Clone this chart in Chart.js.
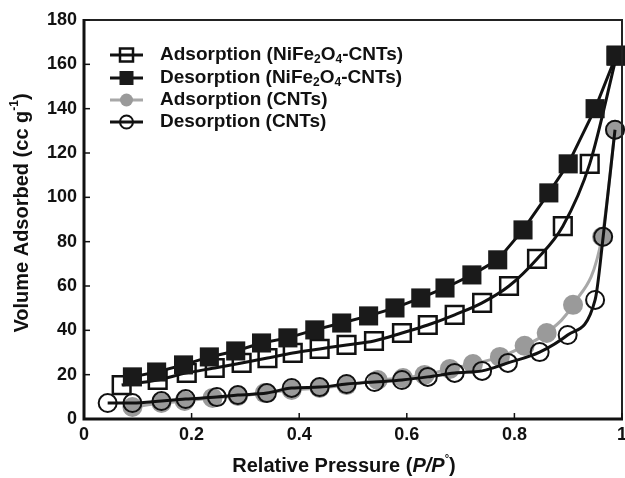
<!DOCTYPE html>
<html>
<head>
<meta charset="utf-8">
<script src="https://cdn.jsdelivr.net/npm/chart.js@4.4.1/dist/chart.umd.min.js"></script>
<style>
html, body { margin: 0; padding: 0; background: #fff; overflow: hidden; }
canvas { display: block; }
</style>
</head>
<body>
<canvas id="isothermChart" width="625" height="478"></canvas>
<script>
const FONT = '"Liberation Sans", Arial, Helvetica, sans-serif';

// NiFe2O4-CNTs adsorption (open squares)
const adsNiX = [0.070, 0.137, 0.191, 0.243, 0.293, 0.341, 0.388, 0.438, 0.488, 0.539, 0.591, 0.639, 0.689, 0.740, 0.790, 0.842, 0.890, 0.940, 0.990];
const adsNiY = [15.3, 17.6, 20.8, 23.0, 25.3, 27.5, 29.8, 31.6, 33.4, 35.2, 38.8, 42.4, 47.0, 52.4, 60.0, 72.2, 87.0, 115.1, 163.9];
// NiFe2O4-CNTs desorption (filled squares)
const desNiX = [0.090, 0.135, 0.185, 0.233, 0.282, 0.330, 0.379, 0.429, 0.479, 0.529, 0.578, 0.626, 0.671, 0.721, 0.769, 0.816, 0.864, 0.900, 0.950, 0.989];
const desNiY = [19.0, 21.2, 24.4, 28.0, 30.7, 34.3, 36.6, 40.2, 43.3, 46.5, 50.1, 54.6, 59.1, 65.0, 71.8, 85.3, 102.0, 115.1, 140.0, 163.9];
// CNTs adsorption (grey circles)
const adsCntX = [0.090, 0.144, 0.187, 0.239, 0.286, 0.336, 0.386, 0.438, 0.488, 0.546, 0.593, 0.633, 0.680, 0.723, 0.773, 0.819, 0.860, 0.909, 0.963, 0.987];
const adsCntY = [5.4, 7.2, 8.1, 9.5, 10.4, 11.7, 13.1, 14.0, 15.3, 17.6, 18.5, 19.9, 22.6, 24.8, 28.0, 33.0, 38.8, 51.5, 82.2, 130.5];
// CNTs desorption (open circles)
const desCntX = [0.044, 0.090, 0.144, 0.189, 0.247, 0.286, 0.340, 0.386, 0.438, 0.488, 0.540, 0.591, 0.639, 0.689, 0.740, 0.788, 0.847, 0.899, 0.950, 0.965, 0.987];
const desCntY = [7.2, 7.2, 8.1, 9.0, 9.9, 10.8, 11.7, 14.0, 14.4, 15.8, 16.7, 17.6, 19.0, 20.8, 21.7, 25.3, 30.2, 37.9, 53.7, 82.2, 130.5];

const xTicks = [0, 0.2, 0.4, 0.6, 0.8, 1];
const yTicks = [0, 20, 40, 60, 80, 100, 120, 140, 160, 180];

const legendRows = [
    [{ t: 'Adsorption (NiFe' }, { t: '2', sub: true }, { t: 'O' }, { t: '4', sub: true }, { t: '-CNTs)' }],
    [{ t: 'Desorption (NiFe' }, { t: '2', sub: true }, { t: 'O' }, { t: '4', sub: true }, { t: '-CNTs)' }],
    [{ t: 'Adsorption (CNTs)' }],
    [{ t: 'Desorption (CNTs)' }]
];

function pts(xs, ys) {
    return xs.map((x, i) => ({ x: x, y: ys[i] }));
}

function runFont(r, size) {
    const s = r.sub || r.sup ? r.small || 12 : size;
    return (r.italic ? 'italic ' : '') + 'bold ' + s + 'px ' + FONT;
}

function drawRuns(ctx, runs, x, y, size, center) {
    let total = 0;
    runs.forEach(r => { ctx.font = runFont(r, size); total += ctx.measureText(r.t).width; });
    let cx = center ? x - total / 2 : x;
    ctx.textBaseline = 'middle';
    ctx.textAlign = 'left';
    runs.forEach(r => {
        ctx.font = runFont(r, size);
        let dy = r.sub ? 5 : (r.sup ? -7 : 0);
        ctx.fillText(r.t, cx, y + dy);
        cx += ctx.measureText(r.t).width;
    });
}

function drawMarker(ctx, kind, x, y) {
    ctx.save();
    ctx.lineWidth = 2.5;
    ctx.strokeStyle = '#111';
    if (kind === 'openSq') {
        ctx.strokeRect(x - 6.5, y - 6.5, 13, 13);
    } else if (kind === 'fillSq') {
        ctx.fillStyle = '#1a1a1a';
        ctx.fillRect(x - 7, y - 7, 14, 14);
    } else if (kind === 'grey') {
        ctx.fillStyle = '#9a9a9a';
        ctx.beginPath(); ctx.arc(x, y, 6.5, 0, Math.PI * 2); ctx.fill();
    } else {
        ctx.lineWidth = 2;
        ctx.beginPath(); ctx.arc(x, y, 6.5, 0, Math.PI * 2); ctx.stroke();
    }
    ctx.restore();
}

const decorations = {
    id: 'decorations',
    afterDraw(chart) {
        const ctx = chart.ctx;
        const a = chart.chartArea;
        const xs = chart.scales.x, ys = chart.scales.y;
        ctx.save();
        // frame
        ctx.strokeStyle = '#222';
        ctx.lineWidth = 2;
        ctx.beginPath();
        ctx.moveTo(a.left, a.top); ctx.lineTo(a.right, a.top); ctx.lineTo(a.right, a.bottom);
        ctx.stroke();
        ctx.strokeStyle = '#111';
        ctx.lineWidth = 3;
        ctx.beginPath();
        ctx.moveTo(a.left, a.top - 1); ctx.lineTo(a.left, a.bottom); ctx.lineTo(a.right + 1, a.bottom);
        ctx.stroke();
        // inward ticks
        ctx.lineWidth = 1.5;
        yTicks.forEach(v => {
            const py = ys.getPixelForValue(v);
            ctx.beginPath(); ctx.moveTo(a.left, py); ctx.lineTo(a.left + 6, py); ctx.stroke();
        });
        xTicks.forEach(v => {
            const px = xs.getPixelForValue(v);
            ctx.beginPath(); ctx.moveTo(px, a.bottom); ctx.lineTo(px, a.bottom - 6); ctx.stroke();
        });
        // axis titles
        ctx.fillStyle = '#111';
        drawRuns(ctx, [{ t: 'Relative Pressure (' }, { t: 'P/P', italic: true }, { t: '°', sup: true, small: 11 }, { t: ')' }],
            (a.left + a.right) / 2 - 9, 466, 20, true);
        ctx.save();
        ctx.translate(22, 213);
        ctx.rotate(-Math.PI / 2);
        drawRuns(ctx, [{ t: 'Volume Adsorbed (cc g' }, { t: '-1', sup: true, small: 12 }, { t: ')' }], 0, 0, 20, true);
        ctx.restore();
        // legend
        const kinds = ['openSq', 'fillSq', 'grey', 'open'];
        const rowY = [55, 78, 100, 122];
        legendRows.forEach((runs, i) => {
            const y = rowY[i];
            ctx.strokeStyle = i === 2 ? '#a8a8a8' : '#111';
            ctx.lineWidth = 3;
            ctx.beginPath(); ctx.moveTo(110, y); ctx.lineTo(143, y); ctx.stroke();
            drawMarker(ctx, kinds[i], 126.5, y);
            ctx.fillStyle = '#111';
            drawRuns(ctx, runs, 160, y, 19, false);
        });
        ctx.restore();
    }
};

const config = {
    type: 'line',
    data: {
        datasets: [
            {
                label: 'Adsorption (NiFe2O4-CNTs)',
                data: pts(adsNiX, adsNiY),
                borderColor: '#111',
                borderWidth: 3,
                pointStyle: 'rect',
                pointRadius: 12.5,
                pointBorderWidth: 2.5,
                pointBorderColor: '#111',
                pointBackgroundColor: 'rgba(0,0,0,0)',
                cubicInterpolationMode: 'monotone',
                order: 1
            },
            {
                label: 'Desorption (NiFe2O4-CNTs)',
                data: pts(desNiX, desNiY),
                borderColor: '#111',
                borderWidth: 3,
                pointStyle: 'rect',
                pointRadius: 13.5,
                pointBorderWidth: 0,
                pointBackgroundColor: '#1a1a1a',
                tension: 0,
                order: 0
            },
            {
                label: 'Adsorption (CNTs)',
                data: pts(adsCntX, adsCntY),
                borderColor: '#a8a8a8',
                borderWidth: 3,
                pointStyle: 'circle',
                pointRadius: 10,
                pointBorderWidth: 0,
                pointBackgroundColor: '#9a9a9a',
                cubicInterpolationMode: 'monotone',
                order: 3
            },
            {
                label: 'Desorption (CNTs)',
                data: pts(desCntX, desCntY),
                borderColor: '#111',
                borderWidth: 3,
                pointStyle: 'circle',
                pointRadius: 9,
                pointBorderWidth: 2,
                pointBorderColor: '#111',
                pointBackgroundColor: 'rgba(0,0,0,0)',
                cubicInterpolationMode: 'monotone',
                order: 2
            }
        ]
    },
    options: {
        responsive: false,
        animation: false,
        clip: false,
        layout: { autoPadding: false, padding: { top: 20, right: 3, left: 0, bottom: 0 } },
        elements: { point: { hoverRadius: 10 } },
        scales: {
            x: {
                type: 'linear',
                min: 0,
                max: 1,
                afterBuildTicks: (s) => { s.ticks = xTicks.map(v => ({ value: v })); },
                afterFit: (s) => { s.height = 59; s.paddingLeft = 0; s.paddingRight = 0; },
                grid: { display: false, drawTicks: false },
                border: { display: false },
                ticks: {
                    color: '#111',
                    padding: 5,
                    maxRotation: 0,
                    font: { family: FONT, size: 18, weight: 'bold' },
                    callback: (v) => String(v)
                }
            },
            y: {
                min: 0,
                max: 180,
                afterBuildTicks: (s) => { s.ticks = yTicks.map(v => ({ value: v })); },
                afterFit: (s) => { s.width = 84; s.paddingTop = 0; s.paddingBottom = 0; },
                grid: { display: false, drawTicks: false },
                border: { display: false },
                ticks: {
                    color: '#111',
                    padding: 7,
                    font: { family: FONT, size: 18, weight: 'bold' }
                }
            }
        },
        plugins: {
            legend: { display: false },
            tooltip: { enabled: false }
        }
    },
    plugins: [decorations]
};

const isothermChart = new Chart(document.getElementById('isothermChart'), config);
</script>
</body>
</html>
